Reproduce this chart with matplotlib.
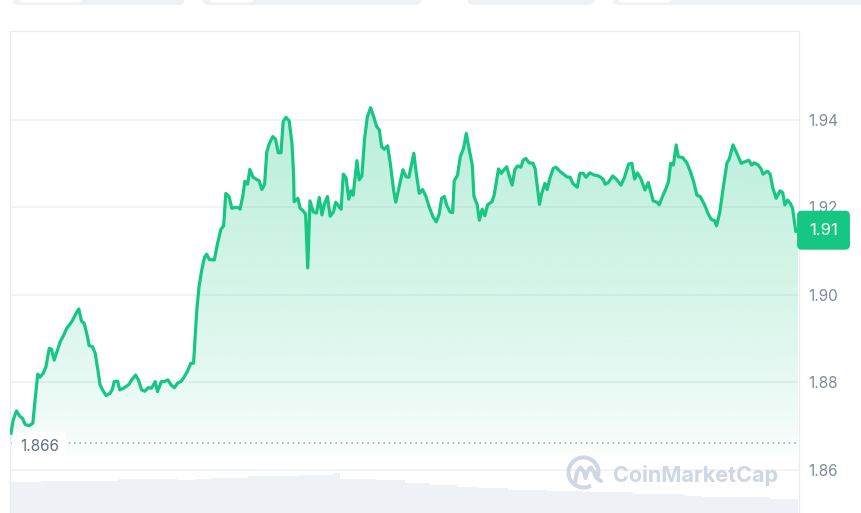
import numpy as np
import matplotlib.pyplot as plt
import matplotlib.transforms as mtransforms
from matplotlib.patches import FancyBboxPatch, Polygon, Arc

plt.rcParams['font.family'] = ['Inter', 'DejaVu Sans']

# minutes since the start of the 24h window
minutes = [
    0, 4, 10, 16, 21, 26, 33, 40, 44, 49,
    53, 59, 64, 70, 74, 79, 84, 90, 96, 102,
    108, 113, 119, 124, 129, 134, 140, 143, 149, 154,
    159, 163, 169, 174, 181, 185, 189, 195, 199, 206,
    212, 216, 221, 228, 233, 239, 245, 251, 257, 264,
    268, 275, 281, 287, 293, 299, 305, 311, 317, 323,
    329, 334, 340, 344, 349, 354, 358, 363, 372, 378,
    384, 389, 393, 399, 404, 410, 416, 419, 424, 428,
    433, 437, 443, 448, 454, 459, 464, 468, 473, 479,
    484, 489, 494, 498, 503, 509, 514, 517, 518, 525,
    529, 534, 539, 543, 547, 553, 559, 564, 569, 573,
    579, 584, 590, 594, 600, 604, 608, 613, 618, 622,
    626, 633, 637, 642, 647, 652, 658, 664, 669, 674,
    678, 683, 689, 694, 700, 704, 709, 717, 723, 728,
    737, 742, 747, 753, 759, 765, 772, 778, 783, 788,
    793, 797, 803, 808, 811, 817, 822, 828, 833, 838,
    844, 847, 853, 857, 862, 867, 872, 880, 884, 892,
    897, 902, 907, 912, 917, 922, 927, 933, 937, 942,
    948, 955, 959, 963, 967, 971, 977, 981, 986, 992,
    997, 1005, 1011, 1017, 1023, 1028, 1036, 1041, 1047, 1052,
    1059, 1067, 1073, 1079, 1084, 1087, 1093, 1101, 1108, 1116,
    1122, 1130, 1136, 1141, 1146, 1152, 1160, 1166, 1175, 1182,
    1186, 1193, 1199, 1203, 1207, 1212, 1217, 1221, 1229, 1237,
    1243, 1249, 1255, 1261, 1269, 1275, 1281, 1287, 1291, 1297,
    1303, 1310, 1314, 1321, 1328, 1336, 1344, 1350, 1355, 1360,
    1367, 1372, 1376, 1384, 1389, 1394, 1400, 1407, 1412, 1416,
    1421, 1426, 1430, 1436, 1440,
]

price = [
    1.8683, 1.8713, 1.8734, 1.8722, 1.8717, 1.8703, 1.8700, 1.8706, 1.8759, 1.8818,
    1.8811, 1.8820, 1.8835, 1.8877, 1.8875, 1.8850, 1.8869, 1.8892, 1.8906, 1.8923,
    1.8932, 1.8942, 1.8957, 1.8967, 1.8939, 1.8934, 1.8903, 1.8883, 1.8881, 1.8866,
    1.8827, 1.8793, 1.8779, 1.8769, 1.8774, 1.8782, 1.8801, 1.8802, 1.8782, 1.8786,
    1.8791, 1.8795, 1.8805, 1.8816, 1.8805, 1.8782, 1.8779, 1.8787, 1.8786, 1.8801,
    1.8778, 1.8801, 1.8801, 1.8805, 1.8793, 1.8787, 1.8798, 1.8801, 1.8812, 1.8825,
    1.8843, 1.8843, 1.8965, 1.9018, 1.9056, 1.9085, 1.9092, 1.9080, 1.9079, 1.9117,
    1.9149, 1.9157, 1.9231, 1.9224, 1.9197, 1.9199, 1.9199, 1.9195, 1.9224, 1.9259,
    1.9252, 1.9286, 1.9268, 1.9264, 1.9260, 1.9240, 1.9252, 1.9326, 1.9346, 1.9361,
    1.9355, 1.9324, 1.9324, 1.9395, 1.9405, 1.9397, 1.9346, 1.9277, 1.9212, 1.9220,
    1.9197, 1.9192, 1.9184, 1.9061, 1.9214, 1.9189, 1.9186, 1.9222, 1.9182, 1.9205,
    1.9224, 1.9179, 1.9189, 1.9211, 1.9201, 1.9195, 1.9275, 1.9267, 1.9218, 1.9237,
    1.9227, 1.9306, 1.9262, 1.9271, 1.9357, 1.9406, 1.9427, 1.9405, 1.9384, 1.9376,
    1.9338, 1.9332, 1.9340, 1.9300, 1.9239, 1.9211, 1.9239, 1.9285, 1.9269, 1.9268,
    1.9323, 1.9273, 1.9231, 1.9240, 1.9225, 1.9201, 1.9178, 1.9166, 1.9182, 1.9220,
    1.9224, 1.9205, 1.9189, 1.9187, 1.9260, 1.9273, 1.9315, 1.9334, 1.9368, 1.9334,
    1.9296, 1.9225, 1.9205, 1.9170, 1.9195, 1.9180, 1.9205, 1.9212, 1.9227, 1.9287,
    1.9277, 1.9285, 1.9292, 1.9269, 1.9250, 1.9286, 1.9294, 1.9291, 1.9307, 1.9311,
    1.9301, 1.9300, 1.9288, 1.9246, 1.9206, 1.9231, 1.9254, 1.9240, 1.9266, 1.9288,
    1.9291, 1.9281, 1.9275, 1.9269, 1.9268, 1.9254, 1.9245, 1.9277, 1.9277, 1.9268,
    1.9278, 1.9273, 1.9272, 1.9268, 1.9262, 1.9252, 1.9256, 1.9271, 1.9263, 1.9250,
    1.9266, 1.9298, 1.9300, 1.9264, 1.9278, 1.9266, 1.9239, 1.9256, 1.9214, 1.9211,
    1.9205, 1.9227, 1.9244, 1.9258, 1.9300, 1.9296, 1.9342, 1.9315, 1.9313, 1.9300,
    1.9281, 1.9258, 1.9227, 1.9224, 1.9205, 1.9186, 1.9172, 1.9169, 1.9157, 1.9189,
    1.9243, 1.9301, 1.9309, 1.9342, 1.9323, 1.9300, 1.9304, 1.9307, 1.9296, 1.9301,
    1.9296, 1.9288, 1.9275, 1.9282, 1.9275, 1.9243, 1.9220, 1.9237, 1.9233, 1.9205,
    1.9216, 1.9208, 1.9197, 1.9144, 1.9147,
]

# volume blocks (relative units)
vol_start = [0, 57, 196, 306, 337, 368, 434, 525, 589, 602, 670,
             721, 767, 818, 855, 909, 981, 1047, 1138, 1233, 1264, 1389]
vol_end = [57, 196, 306, 337, 368, 434, 525, 589, 602, 670, 721,
           767, 818, 855, 909, 981, 1047, 1138, 1233, 1264, 1389, 1440]
vol_value = [30.7, 32.3, 34, 33, 34, 35.3, 37, 38.3, 40, 34.3, 33,
             30, 28, 26.3, 24.7, 23, 22, 20.7, 19, 17.3, 16.3, 14.3]

yticks = [1.86, 1.88, 1.90, 1.92, 1.94]
open_price = 1.866
last_label = '1.91'

green = '#16c784'
grid_c = '#eff2f5'
tick_c = '#808a9d'

fig = plt.figure(figsize=(8.62, 5.13), dpi=100)
ax = fig.add_axes([10 / 862, 0, 789 / 862, 482 / 513])
ax.set_facecolor('white')

# volume on a twin axis (created first: twinx resets tick sides)
ax2 = ax.twinx()

t = np.array(minutes, dtype=float)
p = np.array(price)

xlo, xhi = -1.83, 1441.8
ylo, yhi = 1.85006, 1.96023

# gradient under the line
yy = np.linspace(ylo, yhi, 300)
alpha = 0.3 * np.clip((yy - 1.862) / (1.945 - 1.862), 0, 1) ** 0.7
img = np.zeros((300, 1, 4))
img[..., 0] = 22 / 255
img[..., 1] = 199 / 255
img[..., 2] = 132 / 255
img[:, 0, 3] = alpha
im = ax.imshow(img, extent=[xlo, xhi, ylo, yhi], origin='lower',
               aspect='auto', zorder=1, interpolation='bilinear')
verts = np.vstack([np.column_stack([t, p]), [[t[-1], ylo], [t[0], ylo]]])
clip = Polygon(verts, closed=True, fc='none', ec='none')
ax.add_patch(clip)
im.set_clip_path(clip)

ax.plot(t, p, color=green, lw=2.3, zorder=3, solid_joinstyle='round')

ax.axhline(open_price, color='#a3abba', lw=1.2, ls=(0, (1, 2.2)), zorder=2)
ax.annotate(f'{open_price:.3f}', xy=(0, open_price),
            xycoords=mtransforms.blended_transform_factory(ax.transAxes, ax.transData),
            xytext=(10, -3), textcoords='offset pixels', ha='left', va='center',
            fontsize=11, color='#616e85', zorder=4,
            bbox=dict(boxstyle='square,pad=0.45', fc='white', ec='none'))

ax.set_xlim(xlo, xhi)
ax.set_ylim(ylo, yhi)
ax.set_yticks(yticks)
ax.set_yticklabels([f'{v:.2f}' for v in yticks])
ax.yaxis.tick_right()
ax.tick_params(axis='y', which='both', left=False, labelleft=False,
               right=False, labelright=True, length=0, pad=6.5,
               labelsize=11, labelcolor=tick_c)
ax.set_xticks([])
ax.grid(axis='y', color=grid_c, lw=1.2, zorder=0)
ax.set_axisbelow(True)
for s in ['left', 'top', 'right']:
    ax.spines[s].set_color('#e9ecf0')
    ax.spines[s].set_linewidth(0.9)
ax.spines['bottom'].set_visible(False)

# last price tag
ax.annotate(last_label, xy=(1, p[-1]),
            xycoords=mtransforms.blended_transform_factory(ax.transAxes, ax.transData),
            xytext=(24.5, 0), textcoords='offset pixels', ha='center', va='center',
            fontsize=12, color='white', annotation_clip=False, zorder=6,
            bbox=dict(boxstyle='round,pad=0.72,rounding_size=0.28', fc=green, ec='none'))

ax2.bar(vol_start, vol_value, width=np.array(vol_end) - np.array(vol_start),
        align='edge', color='#eef1f5', edgecolor='none', zorder=1)
ax2.set_ylim(0, 482)
ax2.set_xlim(xlo, xhi)
ax2.set_yticks([])
for s in ax2.spines.values():
    s.set_visible(False)

# watermark
inch = fig.dpi_scale_trans
wm = '#cfd6e4'
fig.text(6.13, (513 - 481.7) / 100, 'CoinMarketCap', transform=inch,
         fontsize=15.5, fontweight='bold', color=wm, va='baseline', ha='left')
fig.add_artist(Arc((5.835, 0.405), 0.30, 0.30, theta1=-15, theta2=300,
                   transform=inch, color=wm, lw=2.9))
mx = np.array([575, 577, 580.5, 584, 585.5, 587, 590.5, 594, 596.5, 601]) / 100
my = (513 - np.array([483, 472, 467.5, 472, 478, 472, 467.5, 472, 478, 481])) / 100
fig.add_artist(plt.Line2D(mx, my, transform=inch, color=wm, lw=2.9,
                          solid_capstyle='round', solid_joinstyle='round'))

# cut-off tabs at the top
for x0, x1 in [(12, 185), (202, 422), (467, 595), (612, 880)]:
    fig.add_artist(FancyBboxPatch((x0 / 100, 5.08), (x1 - x0) / 100, 0.3,
                                  boxstyle='round,pad=0,rounding_size=0.07',
                                  transform=inch, fc='#eff2f5', ec='none'))
for x0, x1 in [(19, 82), (209, 254), (618, 672)]:
    fig.add_artist(FancyBboxPatch((x0 / 100, 5.105), (x1 - x0) / 100, 0.3,
                                  boxstyle='round,pad=0,rounding_size=0.05',
                                  transform=inch, fc='white', ec='none'))

fig.savefig('out.png', dpi=100)
